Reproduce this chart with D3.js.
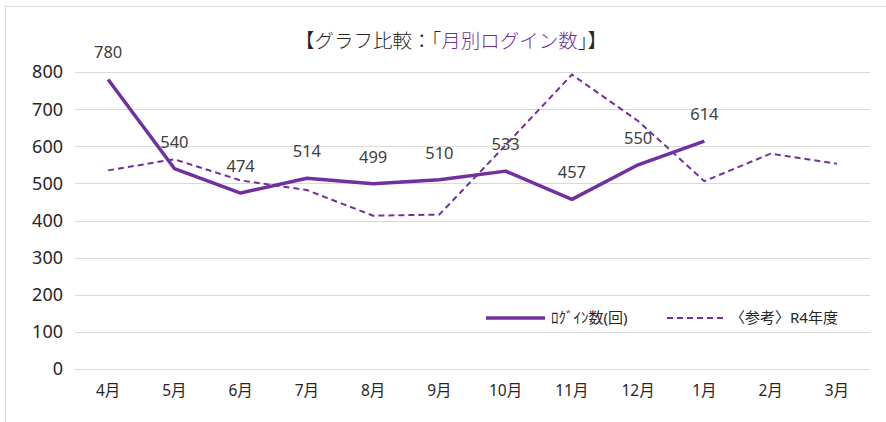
<!DOCTYPE html>
<html>
<head>
<meta charset="utf-8">
<script src="https://cdn.jsdelivr.net/npm/d3@7"></script>
<style>
  body { margin: 0; background: #fff; }
  text { font-family: "Noto Sans", "Noto Sans CJK JP", sans-serif; }
</style>
</head>
<body>
<div id="vis"></div>
<script>
// chart data
const months = ['4月', '5月', '6月', '7月', '8月', '9月', '10月', '11月', '12月', '1月', '2月', '3月']
const logins = [780, 540, 474, 514, 499, 510, 533, 457, 550, 614]
const prevYear = [535, 565, 508, 482, 413, 416, 603, 793, 668, 506, 580, 553]
const yTicks = [0, 100, 200, 300, 400, 500, 600, 700, 800]
const seriesNames = ['ﾛｸﾞｲﾝ数(回)', '〈参考〉R4年度']

const W = 886, H = 422
const purple = '#7030a0'
const margin = { left: 75, right: 16, top: 72, bottom: 53 }

const svg = d3.select('#vis').append('svg')
  .attr('width', W)
  .attr('height', H)

// chart frame
svg.append('path')
  .attr('d', `M5.5,${H} V6.5 H${W}`)
  .attr('fill', 'none')
  .attr('stroke', '#d9d9d9')

const x = d3.scaleBand()
  .domain(months)
  .range([margin.left, W - margin.right])

const y = d3.scaleLinear()
  .domain([0, 800])
  .range([H - margin.bottom, margin.top])

// gridlines
svg.append('g')
  .selectAll('line')
  .data(yTicks)
  .join('line')
  .attr('x1', margin.left)
  .attr('x2', W - margin.right)
  .attr('y1', d => Math.round(y(d)) + 0.5)
  .attr('y2', d => Math.round(y(d)) + 0.5)
  .attr('stroke', '#d9d9d9')
  .attr('stroke-width', 1)

// y labels
svg.append('g')
  .selectAll('text')
  .data(yTicks)
  .join('text')
  .attr('x', 63)
  .attr('y', d => y(d))
  .attr('dy', '0.36em')
  .attr('text-anchor', 'end')
  .attr('font-size', 18)
  .attr('fill', '#262626')
  .text(d => d)

// x labels
svg.append('g')
  .selectAll('text')
  .data(months)
  .join('text')
  .attr('x', d => x(d) + x.bandwidth() / 2)
  .attr('y', 396)
  .attr('text-anchor', 'middle')
  .attr('font-size', 15.5)
  .attr('fill', '#262626')
  .text(d => d)

const line = d3.line()
  .x((d, i) => x(months[i]) + x.bandwidth() / 2)
  .y(d => y(d))

svg.append('path')
  .datum(prevYear)
  .attr('d', line)
  .attr('fill', 'none')
  .attr('stroke', purple)
  .attr('stroke-width', 2)
  .attr('stroke-dasharray', '6,4')

svg.append('path')
  .datum(logins)
  .attr('d', line)
  .attr('fill', 'none')
  .attr('stroke', purple)
  .attr('stroke-width', 3.5)
  .attr('stroke-linejoin', 'round')

// data labels
svg.append('g')
  .selectAll('text')
  .data(logins)
  .join('text')
  .attr('x', (d, i) => x(months[i]) + x.bandwidth() / 2)
  .attr('y', d => y(d) - 21)
  .attr('text-anchor', 'middle')
  .attr('font-size', 16.5)
  .attr('fill', '#404040')
  .text(d => d)

// title
const title = svg.append('text')
  .attr('x', 451)
  .attr('y', 48)
  .attr('text-anchor', 'middle')
  .attr('font-size', 19.5)
  .attr('font-weight', 300)
  .attr('fill', '#262626')
title.append('tspan').text('【グラフ比較：「')
title.append('tspan').attr('fill', purple).text('月別ログイン数')
title.append('tspan').text('」】')

// legend
const legend = svg.append('g')
legend.append('line')
  .attr('x1', 486).attr('x2', 545)
  .attr('y1', 318).attr('y2', 318)
  .attr('stroke', purple).attr('stroke-width', 3.5)
legend.append('text')
  .attr('x', 551).attr('y', 318).attr('dy', '0.36em')
  .attr('font-size', 15).attr('fill', '#262626')
  .text(seriesNames[0])
legend.append('line')
  .attr('x1', 667).attr('x2', 727)
  .attr('y1', 318).attr('y2', 318)
  .attr('stroke', purple).attr('stroke-width', 2)
  .attr('stroke-dasharray', '6,4')
legend.append('text')
  .attr('x', 730).attr('y', 318).attr('dy', '0.36em')
  .attr('font-size', 15).attr('fill', '#262626')
  .text(seriesNames[1])
</script>
</body>
</html>
